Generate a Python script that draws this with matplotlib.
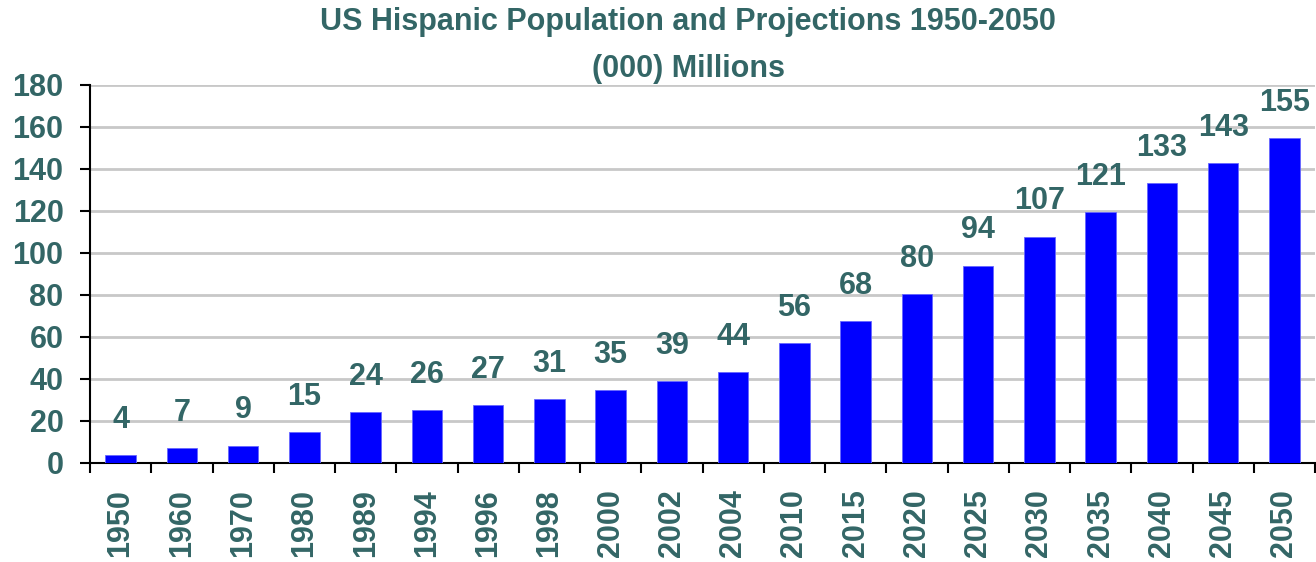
import matplotlib
matplotlib.use("Agg")
import matplotlib.pyplot as plt
import numpy as np

years = ["1950", "1960", "1970", "1980", "1989", "1994", "1996", "1998", "2000", "2002",
         "2004", "2010", "2015", "2020", "2025", "2030", "2035", "2040", "2045", "2050"]
values = [3.8, 7.0, 8.3, 14.6, 24.1, 25.2, 27.6, 30.5, 34.8, 39.0,
          43.3, 57.1, 67.6, 80.3, 94.0, 107.8, 119.5, 133.3, 142.9, 154.6]
labels = ["4", "7", "9", "15", "24", "26", "27", "31", "35", "39",
          "44", "56", "68", "80", "94", "107", "121", "133", "143", "155"]
yticks = [0, 20, 40, 60, 80, 100, 120, 140, 160, 180]

TEXT = "#336666"
FONT = "Liberation Sans"

fig = plt.figure(figsize=(13.16, 5.62), dpi=100)
ax = fig.add_axes([90/1316, 1 - 463/562, (1315-90)/1316, (463-85)/562])

x = np.arange(len(years))
ax.bar(x, values, width=0.5, color="#0000FF", edgecolor="#6666ff", linewidth=0.6, zorder=3)

for xi, v, lab in zip(x, values, labels):
    ax.annotate(lab, (xi, v), xytext=(0, 14.5), textcoords="offset points",
                ha="center", va="bottom", fontsize=22, fontweight="bold",
                color=TEXT, family=FONT, annotation_clip=False)

ax.set_xlim(-0.5, len(years) - 0.5)
ax.set_ylim(0, 180)
ax.set_yticks(yticks)
ax.set_yticklabels([str(t) for t in yticks])
ax.yaxis.grid(True, color="#c8c8c8", linewidth=2, zorder=0)
ax.set_axisbelow(True)

ax.set_xticks(x)
ax.set_xticklabels(years, rotation=90)
ax.set_xticks(np.arange(-0.5, len(years)), minor=True)
ax.tick_params(axis="x", which="major", length=0, pad=19)
ax.tick_params(axis="x", which="minor", length=7, width=1.5, color="black")
ax.tick_params(axis="y", length=7, width=1.5, color="black", pad=12)

for lbl in ax.get_xticklabels() + ax.get_yticklabels():
    lbl.set_fontsize(22)
    lbl.set_fontweight("bold")
    lbl.set_color(TEXT)
    lbl.set_family(FONT)

for s in ["top", "right"]:
    ax.spines[s].set_visible(False)
ax.spines["left"].set_linewidth(1.5)
ax.spines["bottom"].set_linewidth(1.5)

fig.text(688/1316, 1 - 22/562, "US Hispanic Population and Projections 1950-2050",
         ha="center", va="center", fontsize=22, fontweight="bold", color=TEXT, family=FONT)
fig.text(688/1316, 1 - 69/562, "(000) Millions",
         ha="center", va="center", fontsize=22, fontweight="bold", color=TEXT, family=FONT)

fig.savefig("out.png", dpi=100)
